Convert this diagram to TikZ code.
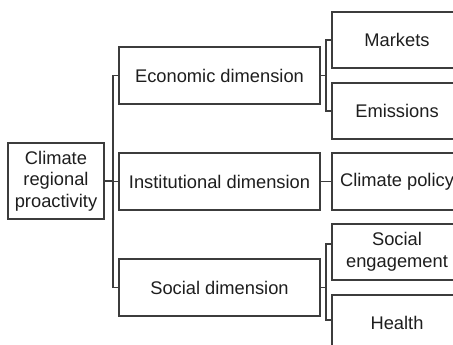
\documentclass[tikz,border=0pt]{standalone}
\usepackage{fontspec}
\setmainfont{Liberation Sans}
\definecolor{linegray}{HTML}{3C3C3C}
\definecolor{inkdark}{HTML}{1E1E1E}
\begin{document}
\begin{tikzpicture}[x=1pt,y=-1pt,
  box/.style={draw=linegray, line width=1.1pt, text=inkdark,
    font=\fontsize{18.3}{21.5}\selectfont, align=center, inner sep=0pt},
  rootbox/.style={box, minimum width=96pt, minimum height=76pt},
  dimbox/.style={box, minimum width=201pt, minimum height=57pt},
  leafbox/.style={box, minimum width=130pt, minimum height=56pt},
  link/.style={draw=linegray, line width=1.1pt}]
\clip (0,0) rectangle (453,345);
\fill[white] (0,0) rectangle (453,345);

% root and the three dimensions
\node[rootbox] (root) at (56,181) {Climate\\regional\\proactivity};
\node[dimbox] (econ)   at (219.5,75.5)  {Economic dimension};
\node[dimbox] (inst)   at (219.5,181.5) {Institutional dimension};
\node[dimbox] (social) at (219.5,287.5) {Social dimension};

% leaves
\node[leafbox] (markets) at (397,40)    {Markets};
\node[leafbox] (emis)    at (397,111)   {Emissions};
\node[leafbox, minimum height=57pt] (policy) at (397,181.5) {Climate policy};
\node[leafbox] (seng)    at (397,252)   {Social\\engagement};
\node[leafbox] (health)  at (397,323)   {Health};

% trunk joining the root to the dimensions
\coordinate (trunk) at (113,0);
\draw[link] (root.east) -- (root.east -| trunk);
\draw[link] (econ.west) -- (econ.west -| trunk) -- (social.west -| trunk) -- (social.west);
\draw[link] (inst.west) -- (inst.west -| trunk);

% economic bracket
\coordinate (ebr) at (326,0);
\draw[link] (econ.east) -- (econ.east -| ebr);
\draw[link] (markets.west) -- (markets.west -| ebr) -- (emis.west -| ebr) -- (emis.west);

% institutional link
\draw[link] (inst.east) -- (policy.west);

% social bracket
\coordinate (sbr) at (326,0);
\coordinate (sengin) at ([yshift=8pt]seng.west);
\coordinate (healthin) at ([yshift=3pt]health.west);
\draw[link] (social.east) -- (social.east -| sbr);
\draw[link] (sengin) -- (sengin -| sbr) -- (healthin -| sbr) -- (healthin);
\end{tikzpicture}
\end{document}
